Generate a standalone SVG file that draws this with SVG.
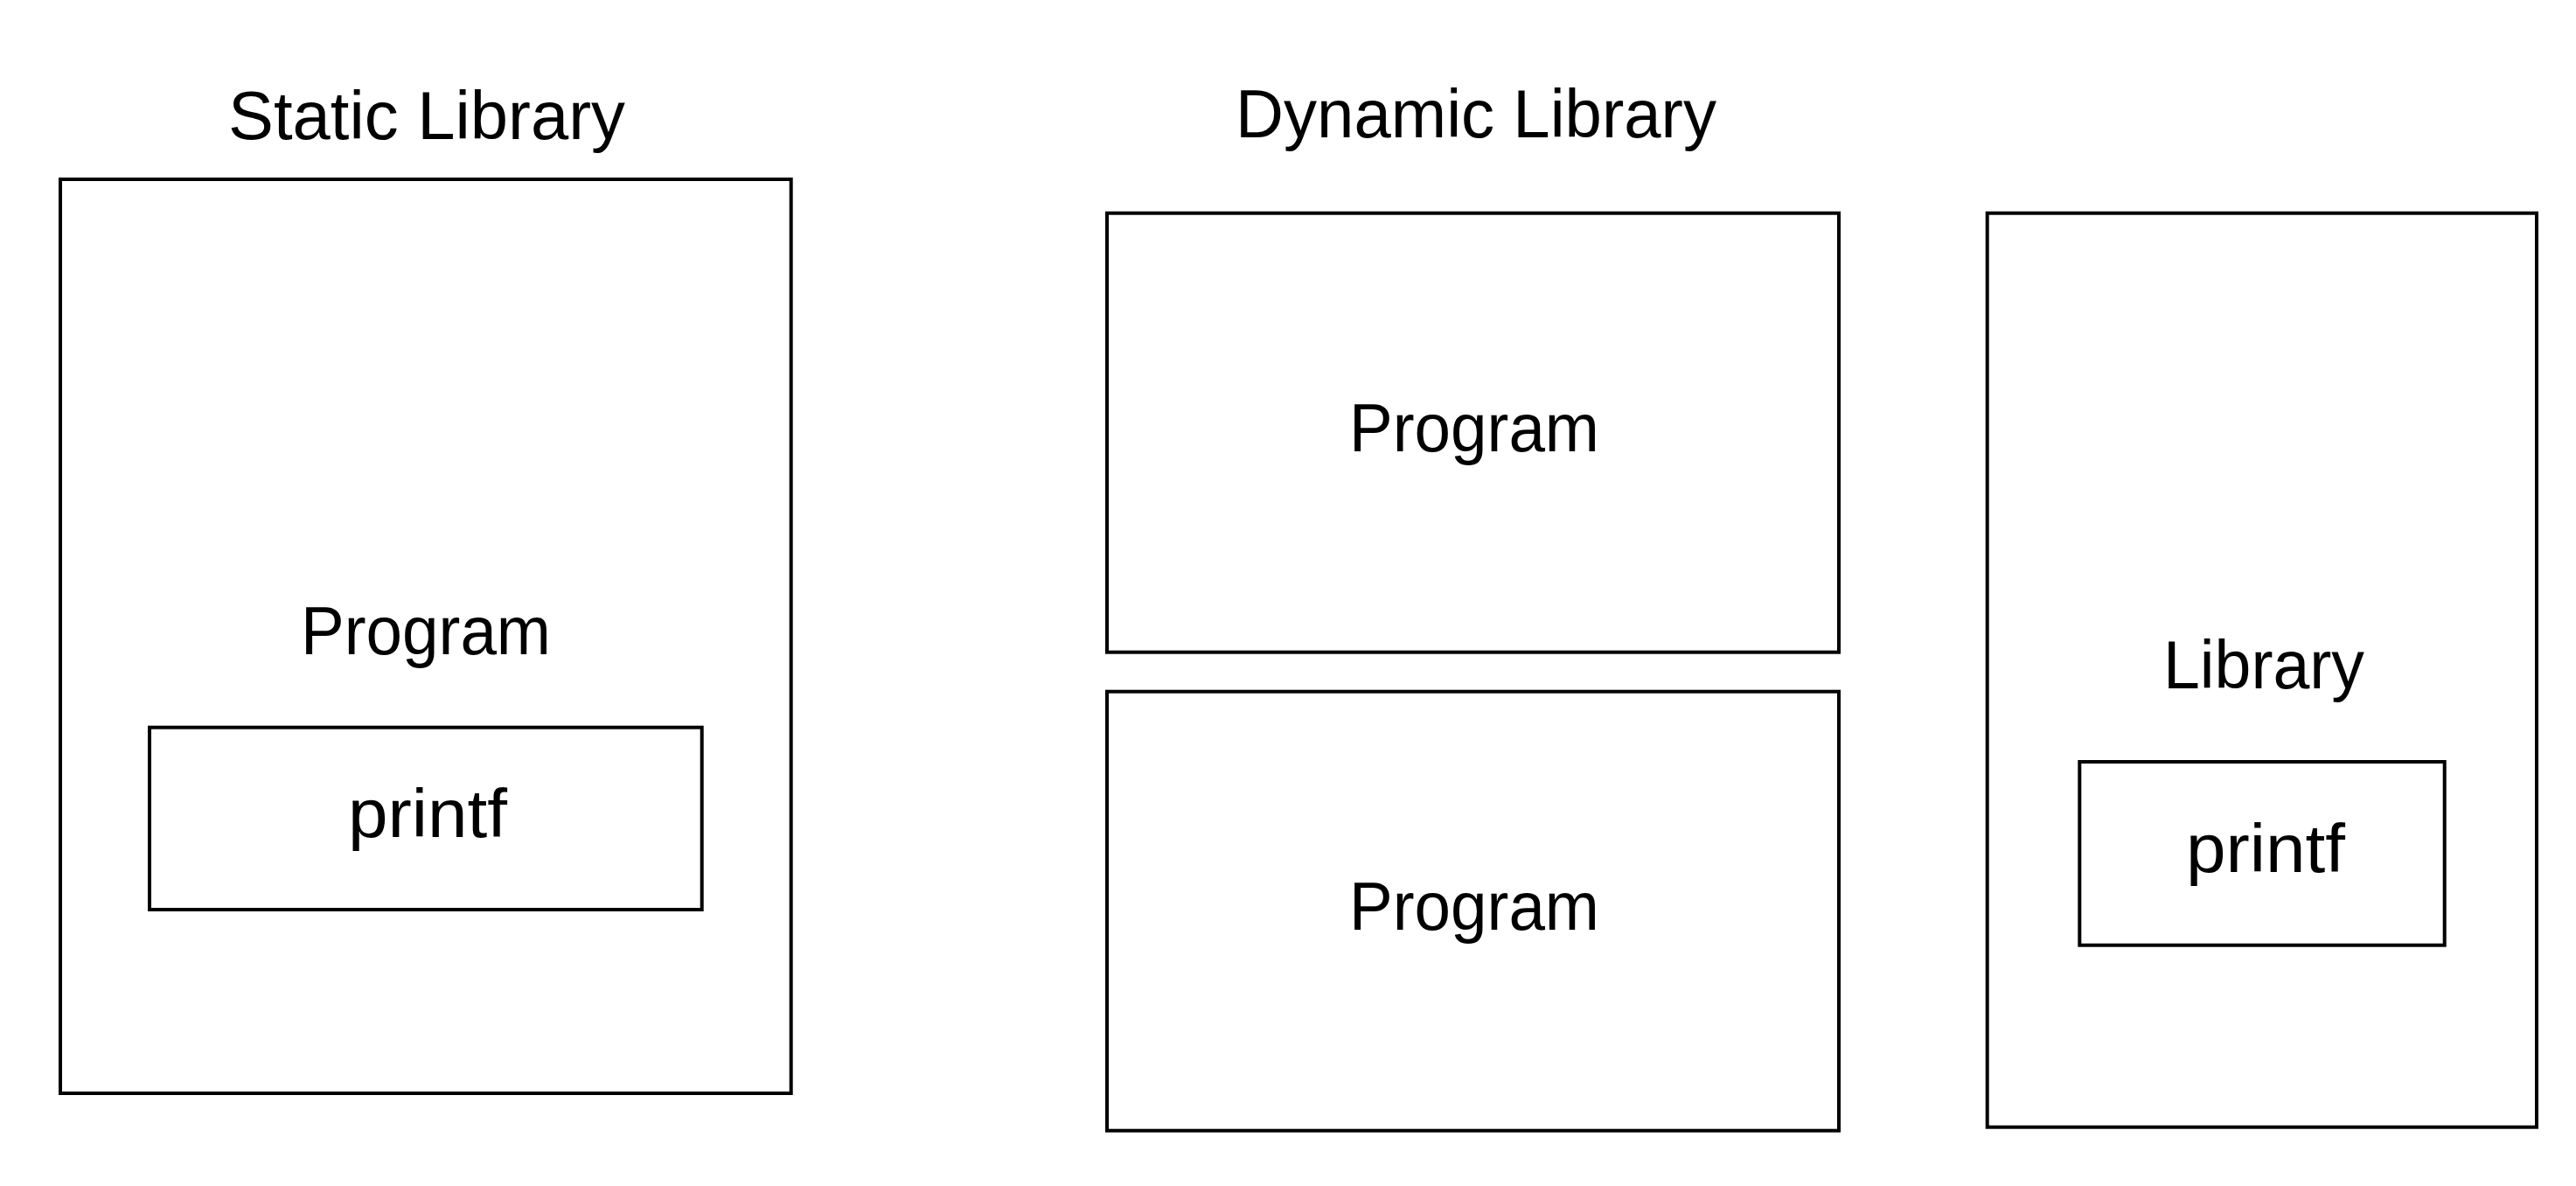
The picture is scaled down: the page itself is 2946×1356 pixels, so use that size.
<svg xmlns="http://www.w3.org/2000/svg" width="2946" height="1356" viewBox="0 0 2946 1356">
<style>
  .box { fill: none; stroke: #000; stroke-width: 4; }
  .lbl { font-family: "Liberation Sans", Arial, sans-serif; font-size: 78px; fill: #000; text-anchor: middle; }
</style>
<rect x="0" y="0" width="2946" height="1356" fill="#fff"/>
<g id="static-title">
  <text class="lbl" x="488" y="159" textLength="454" lengthAdjust="spacingAndGlyphs">Static Library</text>
</g>
<g id="static-program">
  <rect class="box" x="69" y="205" width="835.7" height="1045"/>
  <text class="lbl" x="487" y="748" textLength="286" lengthAdjust="spacingAndGlyphs">Program</text>
</g>
<g id="static-printf">
  <rect class="box" x="171" y="831.7" width="631.7" height="208.3"/>
  <text class="lbl" x="489" y="957" textLength="182" lengthAdjust="spacingAndGlyphs">printf</text>
</g>
<g id="dynamic-title">
  <text class="lbl" x="1688" y="157" textLength="550" lengthAdjust="spacingAndGlyphs">Dynamic Library</text>
</g>
<g id="dynamic-program-1">
  <rect class="box" x="1266" y="243.7" width="837" height="502"/>
  <text class="lbl" x="1686" y="516" textLength="286" lengthAdjust="spacingAndGlyphs">Program</text>
</g>
<g id="dynamic-program-2">
  <rect class="box" x="1266" y="790.7" width="837" height="502"/>
  <text class="lbl" x="1686" y="1063" textLength="286" lengthAdjust="spacingAndGlyphs">Program</text>
</g>
<g id="dynamic-library">
  <rect class="box" x="2272.7" y="243.7" width="628.3" height="1045"/>
  <text class="lbl" x="2589" y="787" textLength="230" lengthAdjust="spacingAndGlyphs">Library</text>
</g>
<g id="dynamic-printf">
  <rect class="box" x="2378.3" y="871" width="417.4" height="209.7"/>
  <text class="lbl" x="2591" y="997" textLength="182" lengthAdjust="spacingAndGlyphs">printf</text>
</g>
<g id="connectors"></g>
</svg>
